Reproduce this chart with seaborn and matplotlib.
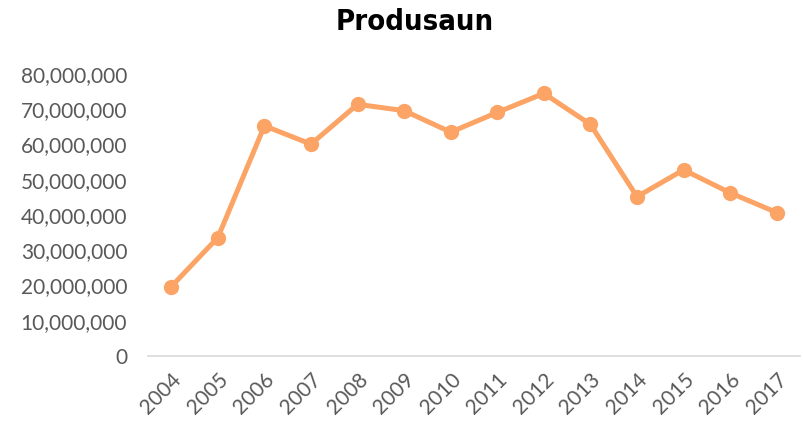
import matplotlib
matplotlib.use('Agg')
import matplotlib.pyplot as plt
import matplotlib.ticker as mticker
import pandas as pd
import seaborn as sns

# data
years = ['2004', '2005', '2006', '2007', '2008', '2009', '2010',
         '2011', '2012', '2013', '2014', '2015', '2016', '2017']
produsaun = [19.7e6, 33.6e6, 65.3e6, 60.1e6, 71.4e6, 69.6e6, 63.5e6,
             69.1e6, 74.5e6, 65.7e6, 45.2e6, 52.8e6, 46.3e6, 40.7e6]

df = pd.DataFrame({'year': years, 'value': produsaun})

sns.set_theme(style='white')
plt.rcParams['font.family'] = ['Lato', 'DejaVu Sans']

line_color = '#FBA465'
tick_color = '#595959'

f = plt.figure(figsize=(8.04, 4.22), dpi=100)
ax = f.add_axes([148/804, 66/422, 652/804, 282/422])

sns.lineplot(data=df, x='year', y='value', ax=ax, color=line_color,
             linewidth=3.6, marker='o', markersize=11,
             markeredgewidth=0, sort=False)

ax.set_xlim(-0.5, len(years) - 0.5)
ax.set_ylim(0, 80e6)
ax.yaxis.set_major_locator(mticker.MultipleLocator(10e6))
ax.yaxis.set_major_formatter(mticker.FuncFormatter(lambda v, p: f'{int(v):,}'))
ax.set_xlabel('')
ax.set_ylabel('')

ax.tick_params(axis='y', labelsize=15, colors=tick_color, length=0, pad=15)
ax.tick_params(axis='x', labelsize=15, colors=tick_color, length=0, pad=10)
for lab in ax.get_xticklabels():
    lab.set_rotation(45)
    lab.set_ha('right')
    lab.set_rotation_mode('anchor')
    lab.set_x(0.1)

sns.despine(ax=ax, left=True)
ax.spines['bottom'].set_color('#D9D9D9')
ax.spines['bottom'].set_linewidth(1.2)

f.text(415/804, 1 - 22/422, 'Produsaun', ha='center', va='center',
       fontsize=21, fontweight='bold', fontstretch='condensed',
       family=['DejaVu Sans'], color='black')

f.savefig('out.png', dpi=100)
